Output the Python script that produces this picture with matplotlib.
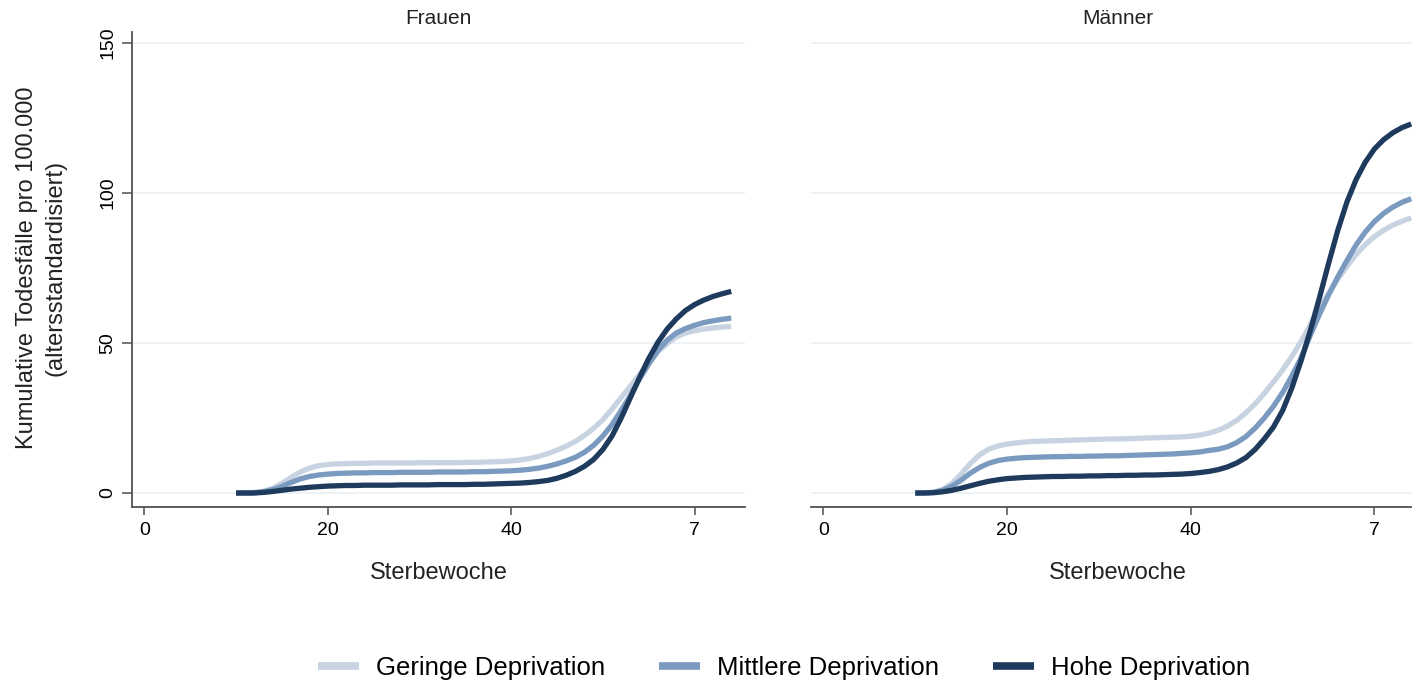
import matplotlib
matplotlib.use("Agg")
import matplotlib.pyplot as plt

plt.rcParams['font.family'] = ['Liberation Sans', 'DejaVu Sans']

# Sterbewochen 10 bis 64
wochen = list(range(10, 65))

# Frauen
frauen_gering = [0, 0, 0.2, 0.6, 1.6, 3.2, 5.2, 7.0, 8.3, 9.1,
                 9.5, 9.7, 9.8, 9.9, 9.9, 10.0, 10.0, 10.0, 10.0, 10.0,
                 10.1, 10.1, 10.1, 10.1, 10.1, 10.2, 10.2, 10.3, 10.4, 10.5,
                 10.7, 11.0, 11.5, 12.2, 13.1, 14.3, 15.6, 17.2, 19.2, 21.6,
                 24.4, 28.0, 31.8, 35.6, 39.5, 43.3, 47.0, 49.8, 52.0, 53.3,
                 54.1, 54.6, 55.0, 55.3, 55.5]
frauen_mittel = [0, 0, 0.1, 0.4, 1.1, 2.2, 3.5, 4.7, 5.5, 6.0,
                 6.3, 6.5, 6.6, 6.7, 6.7, 6.8, 6.8, 6.8, 6.9, 6.9,
                 6.9, 6.9, 7.0, 7.0, 7.0, 7.0, 7.1, 7.1, 7.2, 7.3,
                 7.4, 7.6, 7.9, 8.3, 8.9, 9.7, 10.7, 11.9, 13.6, 15.9,
                 19.0, 22.8, 27.5, 32.5, 38.0, 43.0, 47.5, 50.9, 53.3, 54.8,
                 55.9, 56.8, 57.4, 57.9, 58.3]
frauen_hoch = [0, 0, 0, 0.2, 0.5, 0.9, 1.3, 1.6, 1.9, 2.1,
               2.3, 2.4, 2.5, 2.5, 2.6, 2.6, 2.6, 2.6, 2.7, 2.7,
               2.7, 2.7, 2.8, 2.8, 2.8, 2.8, 2.9, 2.9, 3.0, 3.1,
               3.2, 3.3, 3.5, 3.8, 4.2, 4.9, 5.9, 7.2, 8.9, 11.2,
               14.5, 19.0, 25.0, 31.8, 38.5, 44.8, 50.2, 54.6, 58.0, 60.8,
               62.8, 64.3, 65.5, 66.4, 67.2]

# Maenner
maenner_gering = [0, 0, 0.3, 1.2, 3.2, 6.3, 9.8, 12.7, 14.6, 15.7,
                  16.3, 16.7, 17.0, 17.2, 17.3, 17.4, 17.5, 17.6, 17.7, 17.8,
                  17.9, 18.0, 18.0, 18.1, 18.2, 18.3, 18.4, 18.5, 18.6, 18.7,
                  18.9, 19.3, 20.0, 20.9, 22.3, 24.2, 26.7, 29.7, 33.2, 37.0,
                  41.0, 45.5, 50.5, 56.0, 61.5, 66.5, 71.2, 75.5, 79.5, 82.8,
                  85.5, 87.6, 89.3, 90.6, 91.7]
maenner_mittel = [0, 0, 0.2, 0.9, 2.3, 4.3, 6.6, 8.5, 9.9, 10.8,
                  11.3, 11.6, 11.8, 11.9, 12.0, 12.1, 12.1, 12.2, 12.2, 12.3,
                  12.3, 12.4, 12.4, 12.5, 12.6, 12.7, 12.8, 12.9, 13.0, 13.2,
                  13.4, 13.7, 14.2, 14.6, 15.4, 16.8, 18.8, 21.6, 25.0, 28.9,
                  33.5, 39.0, 45.0, 52.5, 59.5, 66.0, 72.0, 77.5, 82.7, 87.0,
                  90.5, 93.2, 95.3, 96.9, 98.1]
maenner_hoch = [0, 0, 0.1, 0.4, 0.9, 1.6, 2.4, 3.2, 3.9, 4.4,
                4.8, 5.0, 5.2, 5.3, 5.4, 5.5, 5.5, 5.6, 5.6, 5.7,
                5.7, 5.8, 5.8, 5.9, 5.9, 6.0, 6.0, 6.1, 6.2, 6.3,
                6.5, 6.8, 7.2, 7.8, 8.7, 10.0, 11.8, 14.5, 18.0, 22.0,
                27.5, 35.0, 44.0, 54.0, 65.0, 76.5, 87.5, 97.0, 104.5, 110.3,
                114.7, 117.8, 120.1, 121.8, 123.0]

gruppen = ['Geringe Deprivation', 'Mittlere Deprivation', 'Hohe Deprivation']
farben = ['#c8d3e1', '#7b9abf', '#1e3a5c']
panels = ['Frauen', 'Männer']
x_ticks = [0, 20, 40, 60]
x_ticklabels = ['0', '20', '40', '7']
y_ticks = [0, 50, 100, 150]

daten = {
    'Frauen': [frauen_gering, frauen_mittel, frauen_hoch],
    'Männer': [maenner_gering, maenner_mittel, maenner_hoch],
}

fig = plt.figure(figsize=(14.12, 6.82), dpi=100)
ax1 = fig.add_axes([132 / 1412, 1 - 507 / 682, 613 / 1412, 475 / 682])
ax2 = fig.add_axes([811 / 1412, 1 - 507 / 682, 614 / 1412, 475 / 682])

achsen_farbe = '#505050'
for ax, name in zip([ax1, ax2], panels):
    for werte, farbe, gruppe in zip(daten[name], farben, gruppen):
        ax.plot(wochen, werte, color=farbe, lw=3.8, label=gruppe,
                solid_capstyle='butt', zorder=3)
    ax.set_xlim(-1.35, 65.5)
    ax.set_ylim(-4.67, 153.67)
    ax.set_xticks(x_ticks)
    ax.set_xticklabels(x_ticklabels)
    ax.set_yticks(y_ticks)
    ax.grid(axis='y', color='#eaf1f3', lw=1.2, zorder=0)
    ax.set_axisbelow(True)
    ax.spines['top'].set_visible(False)
    ax.spines['right'].set_visible(False)
    ax.spines['bottom'].set_color(achsen_farbe)
    ax.spines['bottom'].set_linewidth(1.3)
    ax.spines['left'].set_color(achsen_farbe)
    ax.spines['left'].set_linewidth(1.3)
    ax.tick_params(axis='x', length=6, width=1.1, color=achsen_farbe,
                   labelsize=14, pad=5)
    ax.set_title(name, fontsize=15, pad=6, color='#222222')
    ax.set_xlabel('Sterbewoche', fontsize=17, color='#222222')
    ax.xaxis.set_label_coords(0.5, -0.115)

ax1.tick_params(axis='y', length=7, width=1.1, color=achsen_farbe,
                labelsize=14, pad=4)
for lbl in ax1.get_yticklabels():
    lbl.set_rotation(90)
    lbl.set_va('center')

ax2.spines['left'].set_visible(False)
ax2.tick_params(axis='y', left=False, labelleft=False)

fig.text(41 / 1412, 1 - 268 / 682,
         'Kumulative Todesfälle pro 100.000\n(altersstandardisiert)',
         rotation=90, ha='center', va='center', fontsize=17,
         linespacing=1.4, color='#222222')

fig.legend(*ax1.get_legend_handles_labels(), loc='center',
           bbox_to_anchor=(784 / 1412, 1 - 668 / 682), ncol=3,
           frameon=False, fontsize=18.5, handlelength=1.6, handletextpad=0.65,
           columnspacing=2.1)
for linie in fig.legends[0].get_lines():
    linie.set_linewidth(5.5)

fig.savefig('out.png', dpi=100)
